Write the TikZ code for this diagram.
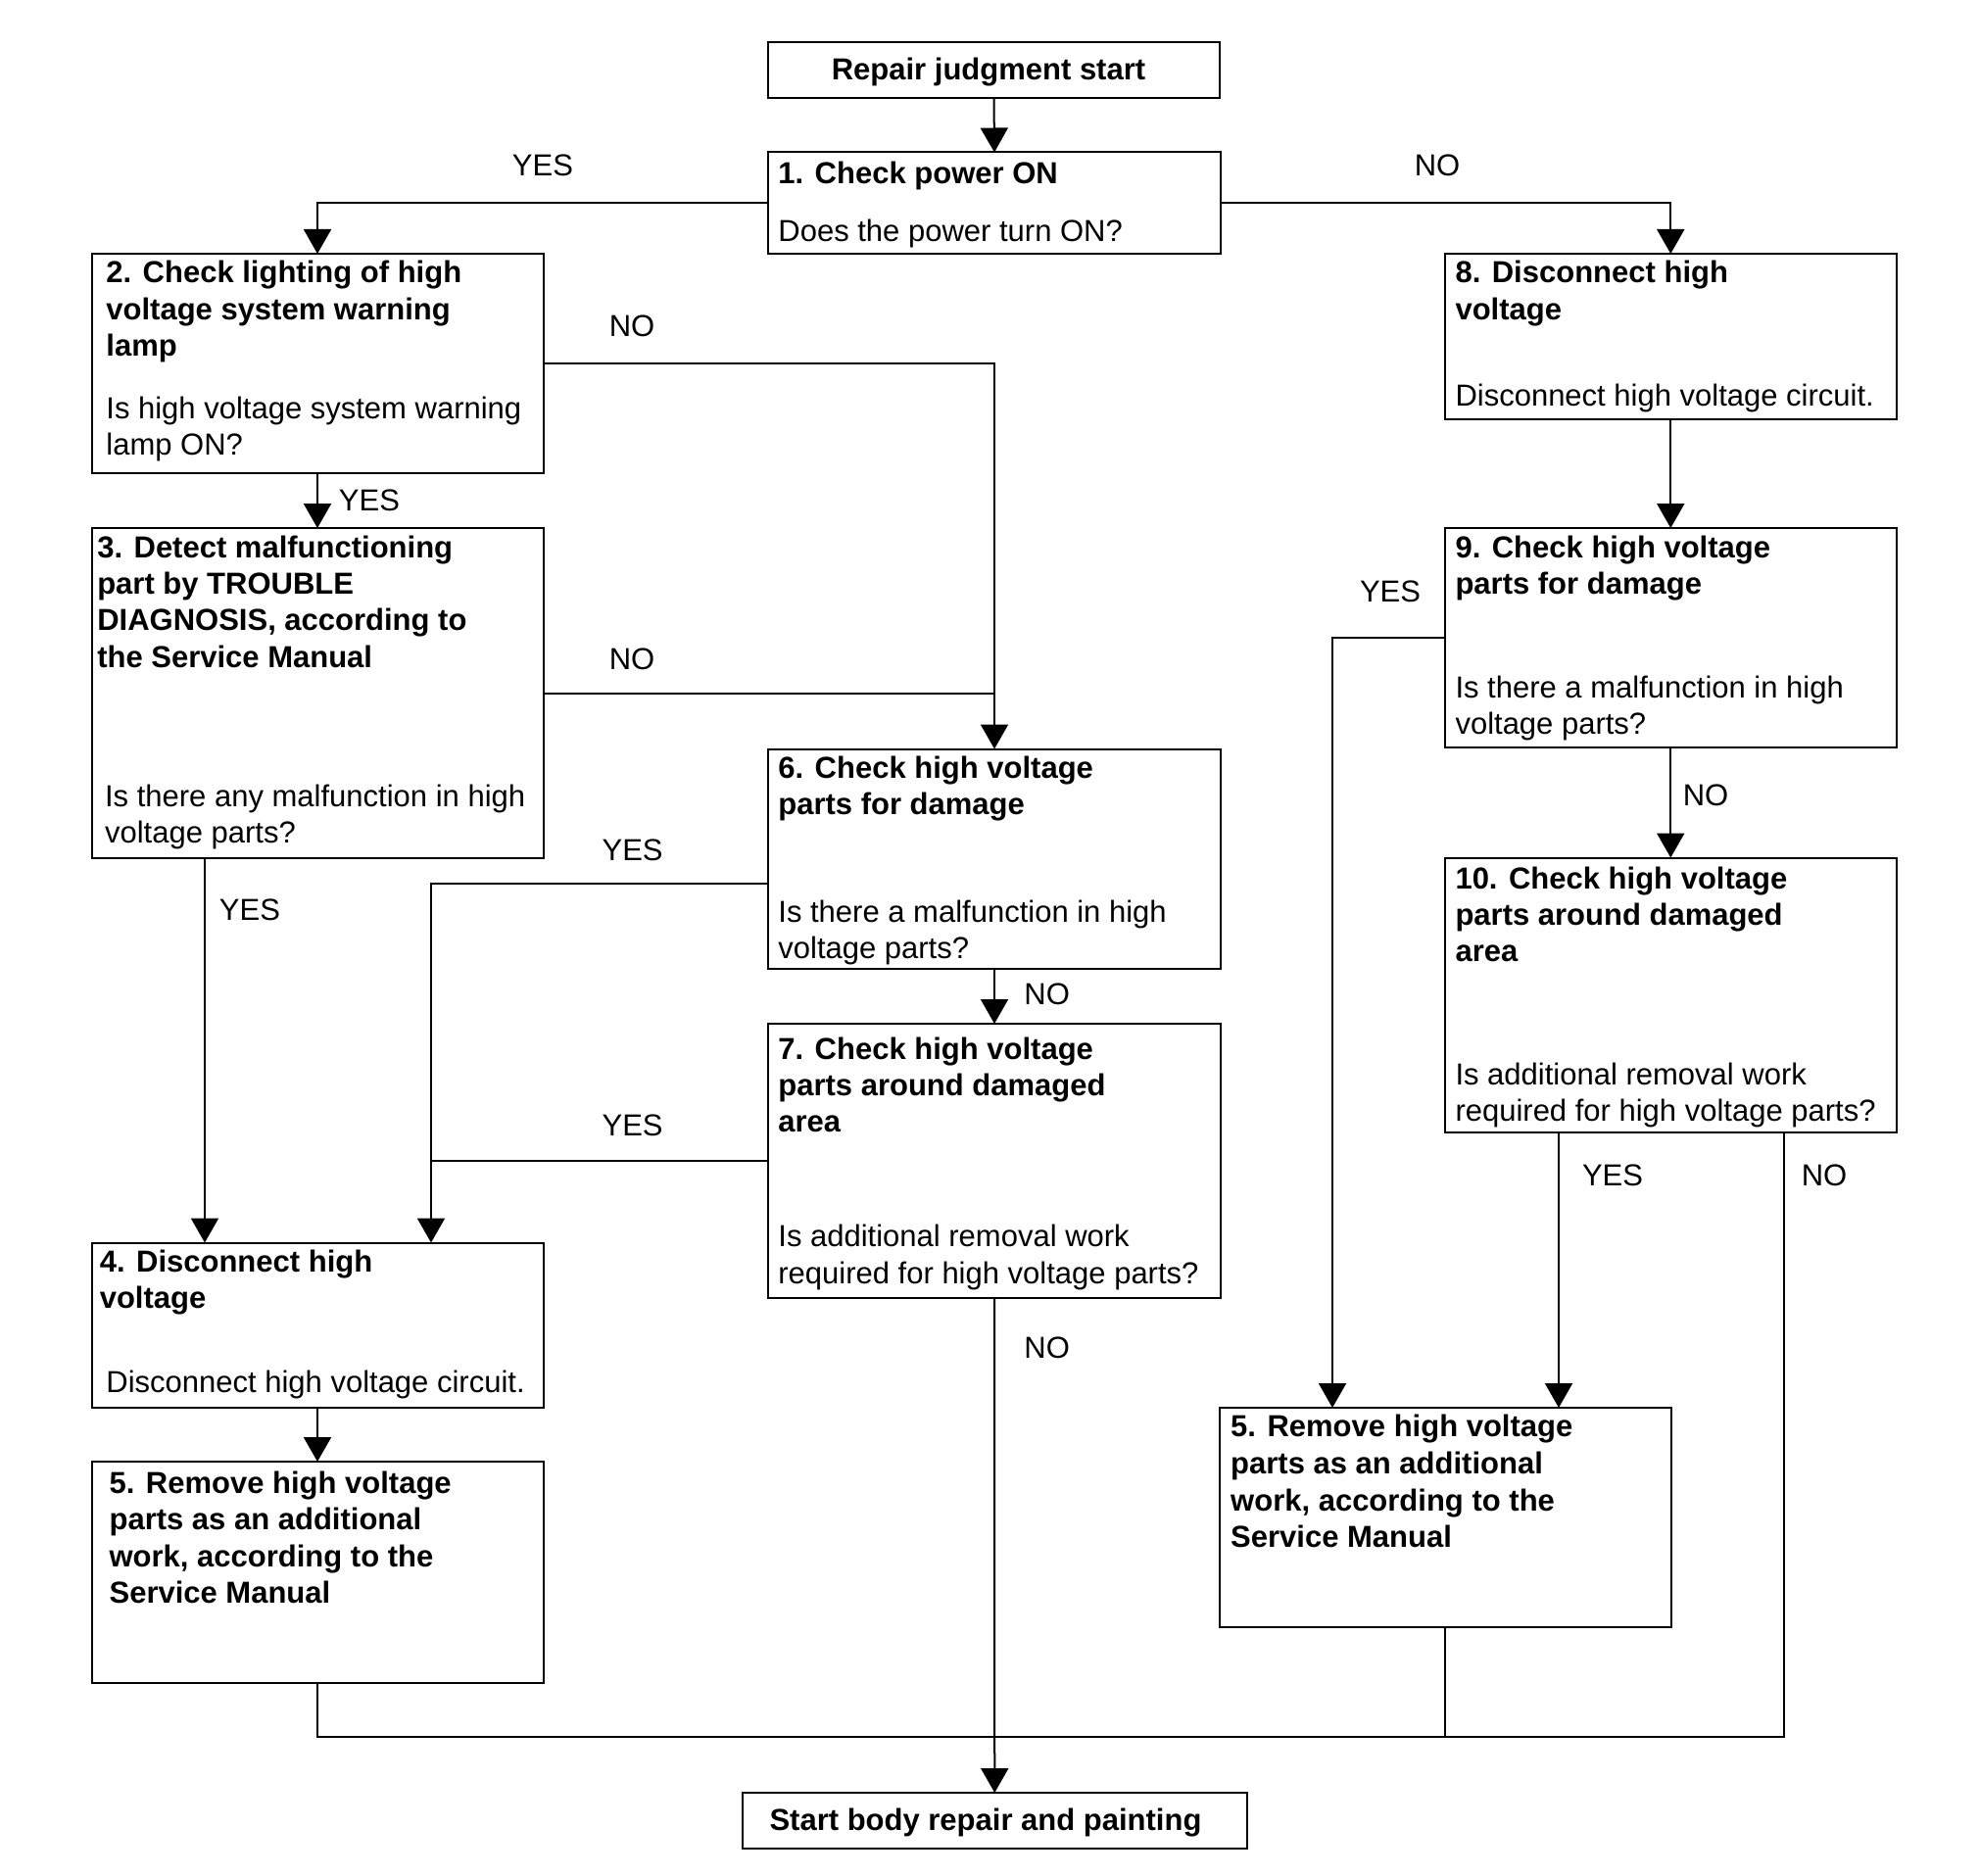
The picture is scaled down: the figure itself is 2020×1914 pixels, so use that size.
\documentclass[tikz,border=0pt]{standalone}
\usepackage{fontspec}
\setmainfont{Liberation Sans}
\usetikzlibrary{arrows.meta,calc}
\newcommand\fs{\fontsize{7.75}{9.25}\selectfont}
\tikzset{
  box/.style={draw, line width=0.5pt, inner sep=0pt, outer sep=0pt},
  tt/.style={anchor=base west, inner sep=0pt, font=\fs\bfseries},
  qq/.style={anchor=base west, inner sep=0pt, font=\fs},
  ttc/.style={anchor=base, inner sep=0pt, font=\fs\bfseries},
  lab/.style={anchor=base, inner sep=0pt, font=\fs},
  conn/.style={line width=0.5pt},
  arr/.style={conn, -{Triangle[length=6.25pt, width=7pt]}},
}
\begin{document}
\begin{tikzpicture}[x=0.25pt, y=-0.25pt]
\useasboundingbox (0,0) rectangle (2020,1914);

% boxes
\node[box, minimum width=115.25pt, minimum height=14.25pt] (rs) at (1014.5,71.5) {};
\node[box, minimum width=115.5pt, minimum height=25.875pt] (b1) at (1015,207.25) {};
\node[box, minimum width=115.25pt, minimum height=56pt] (b2) at (324,371) {};
\node[box, minimum width=115.25pt, minimum height=84.25pt] (b3) at (324,707.5) {};
\node[box, minimum width=115.5pt, minimum height=56.125pt] (b6) at (1015,876.75) {};
\node[box, minimum width=115.5pt, minimum height=70pt] (b7) at (1015,1185) {};
\node[box, minimum width=115.25pt, minimum height=42pt] (b4) at (324,1352.5) {};
\node[box, minimum width=115.25pt, minimum height=56.375pt] (b5L) at (324,1604.75) {};
\node[box, minimum width=115.125pt, minimum height=42.25pt] (b8) at (1705.25,343.5) {};
\node[box, minimum width=115.125pt, minimum height=56pt] (b9) at (1705.25,651) {};
\node[box, minimum width=115.125pt, minimum height=70.125pt] (b10) at (1705.25,1015.75) {};
\node[box, minimum width=115.375pt, minimum height=55.875pt] (b5R) at (1475.25,1548.75) {};
\node[box, minimum width=128.875pt, minimum height=14.125pt] (fin) at (1015.25,1858.25) {};

% texts
\node[ttc] (trs) at (1009,81.6) {Repair judgment start};
\node[tt] (t1a) at (793.6,187.8) {1. Check power ON};
\node[qq] (t1b) at (793.6,247) {Does the power turn ON?};

\node[tt] (t2a) at (107.6,289) {2. Check lighting of high};
\node[tt] (t2b) at (107.6,326.5) {voltage system warning};
\node[tt] (t2c) at (107.6,363.5) {lamp};
\node[qq] (t2d) at (107.6,427.8) {Is high voltage system warning};
\node[qq] (t2e) at (107.6,464.5) {lamp ON?};

\node[tt] (t3a) at (98.5,569.4) {3. Detect malfunctioning};
\node[tt] (t3b) at (98.5,606.5) {part by TROUBLE};
\node[tt] (t3c) at (98.5,643.5) {DIAGNOSIS, according to};
\node[tt] (t3d) at (98.5,681) {the Service Manual};
\node[qq] (t3e) at (106.3,823.7) {Is there any malfunction in high};
\node[qq] (t3f) at (106.3,860.5) {voltage parts?};

\node[tt] (t6a) at (793.6,794) {6. Check high voltage};
\node[tt] (t6b) at (793.6,831) {parts for damage};
\node[qq] (t6c) at (793.6,941) {Is there a malfunction in high};
\node[qq] (t6d) at (793.6,978) {voltage parts?};

\node[tt] (t7a) at (793.6,1081) {7. Check high voltage};
\node[tt] (t7b) at (793.6,1118) {parts around damaged};
\node[tt] (t7c) at (793.6,1155) {area};
\node[qq] (t7d) at (793.6,1272.6) {Is additional removal work};
\node[qq] (t7e) at (793.6,1310) {required for high voltage parts?};

\node[tt] (t4a) at (101,1298) {4. Disconnect high};
\node[tt] (t4b) at (101,1335) {voltage};
\node[qq] (t4c) at (107.6,1421.5) {Disconnect high voltage circuit.};

\node[tt] (t5a) at (110.8,1524.6) {5. Remove high voltage};
\node[tt] (t5b) at (110.8,1561.8) {parts as an additional};
\node[tt] (t5c) at (110.8,1599.2) {work, according to the};
\node[tt] (t5d) at (110.8,1636.6) {Service Manual};

\node[tt] (t8a) at (1484.7,289) {8. Disconnect high};
\node[tt] (t8b) at (1484.7,326.5) {voltage};
\node[qq] (t8c) at (1484.7,414) {Disconnect high voltage circuit.};

\node[tt] (t9a) at (1484.7,569.4) {9. Check high voltage};
\node[tt] (t9b) at (1484.7,606.5) {parts for damage};
\node[qq] (t9c) at (1484.7,712.6) {Is there a malfunction in high};
\node[qq] (t9d) at (1484.7,749.4) {voltage parts?};

\node[tt] (t10a) at (1484.7,907) {10. Check high voltage};
\node[tt] (t10b) at (1484.7,944) {parts around damaged};
\node[tt] (t10c) at (1484.7,981) {area};
\node[qq] (t10d) at (1484.7,1107) {Is additional removal work};
\node[qq] (t10e) at (1484.7,1144) {required for high voltage parts?};

\node[tt] (t5ra) at (1255.4,1466.8) {5. Remove high voltage};
\node[tt] (t5rb) at (1255.4,1504.4) {parts as an additional};
\node[tt] (t5rc) at (1255.4,1542) {work, according to the};
\node[tt] (t5rd) at (1255.4,1579.4) {Service Manual};

\node[ttc] (tfin) at (1006,1868) {Start body repair and painting};

% helper coordinates
\coordinate (k209) at (209,0);
\coordinate (k440) at (440,0);
\coordinate (k1360) at (1360,0);
\coordinate (k1591) at (1591,0);
\coordinate (k1821) at (1821,0);
\coordinate (y6) at (0,901.6);
\coordinate (yb) at (0,1773.3);

% connectors
\draw[arr] (rs.south) -- (b1.north);
\draw[arr] (b1.west) -| (b2.north);
\draw[arr] (b1.east) -| (b8.north);
\draw[arr] (b2.east) -| (b6.north);
\draw[conn] (b3.east) -- (b3.east -| b6.north);
\draw[arr] (b2.south) -- (b3.north);
\draw[arr] (b3.south -| k209) -- (b4.north -| k209);
\draw[arr] (b6.west |- y6) -| (b4.north -| k440);
\draw[conn] (b7.west) -- (b7.west -| k440);
\draw[arr] (b6.south) -- (b7.north);
\draw[arr] (b7.south) -- (fin.north);
\draw[arr] (b4.south) -- (b5L.north);
\draw[arr] (b8.south) -- (b9.north);
\draw[arr] (b9.west) -| (b5R.north -| k1360);
\draw[arr] (b9.south) -- (b10.north);
\draw[arr] (b10.south -| k1591) -- (b5R.north -| k1591);
\draw[conn] (b5L.south) -- (b5L.south |- yb) -- (yb -| k1821) -- (b10.south -| k1821);
\draw[conn] (b5R.south) -- (b5R.south |- yb);

% labels
\node[lab] (l1) at (554,180) {YES};
\node[lab] (l2) at (1467,180) {NO};
\node[lab] (l3) at (645,344) {NO};
\node[lab] (l4) at (377,521.6) {YES};
\node[lab] (l5) at (645,683.7) {NO};
\node[lab] (l6) at (645.6,878) {YES};
\node[lab] (l7) at (255,939) {YES};
\node[lab] (l8) at (645.6,1159) {YES};
\node[lab] (l9) at (1068.6,1025.7) {NO};
\node[lab] (l10) at (1068.6,1386) {NO};
\node[lab] (l11) at (1419,614) {YES};
\node[lab] (l12) at (1741,822) {NO};
\node[lab] (l13) at (1646,1210.6) {YES};
\node[lab] (l14) at (1862,1210.6) {NO};
\end{tikzpicture}
\end{document}
